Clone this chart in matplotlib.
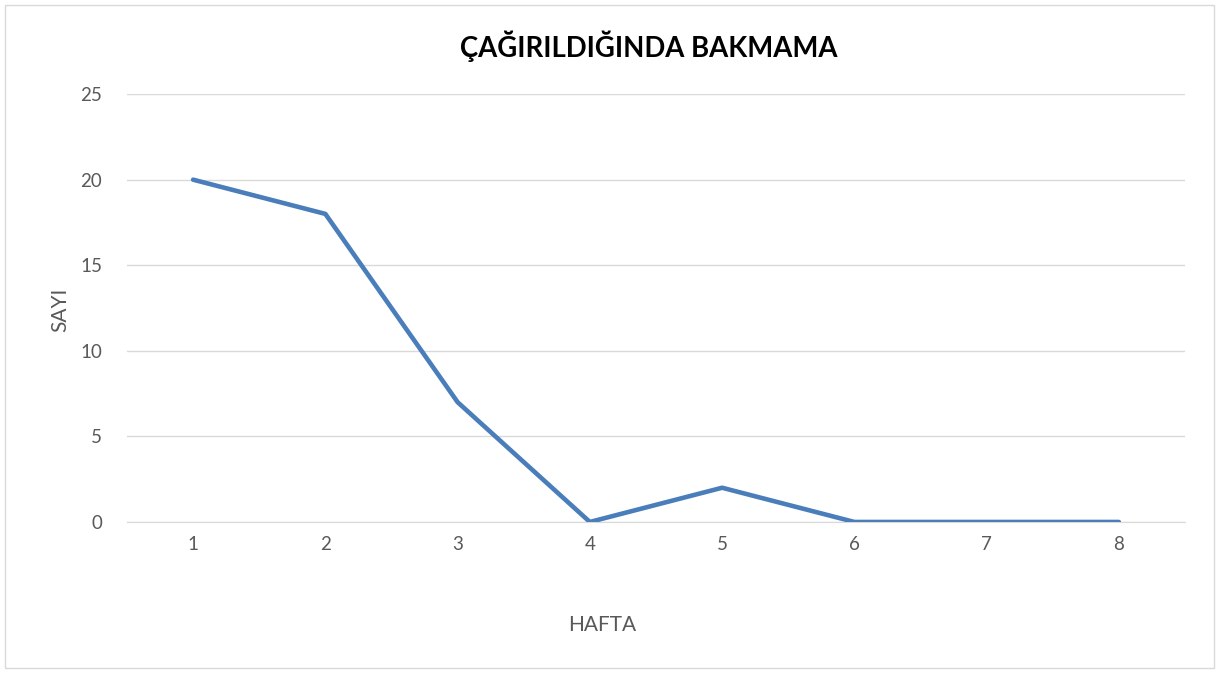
import matplotlib.pyplot as plt
from matplotlib.patches import Rectangle

plt.rcParams['font.family'] = ['Lato', 'DejaVu Sans']

# veri
hafta = [1, 2, 3, 4, 5, 6, 7, 8]
sayi = [20, 18, 7, 0, 2, 0, 0, 0]
yticks = [0, 5, 10, 15, 20, 25]

fig = plt.figure(figsize=(12.21, 6.77), dpi=100)
fig.patches.append(Rectangle((0.004, 0.013), 0.99, 0.98, transform=fig.transFigure,
                             fill=False, edgecolor='#d9d9d9', linewidth=1))
ax = fig.add_axes([0.104, 0.229, 0.8665, 0.632])

ax.plot(hafta, sayi, color='#4a7ebb', linewidth=3.3, solid_joinstyle='round',
        solid_capstyle='round', zorder=3)

ax.set_xlim(0.5, 8.5)
ax.set_ylim(0, 25)
ax.set_yticks(yticks)
ax.set_xticks(hafta)
ax.grid(axis='y', color='#d9d9d9', linewidth=1)
for s in ['top', 'right', 'left']:
    ax.spines[s].set_visible(False)
ax.spines['bottom'].set_color('#d9d9d9')
ax.tick_params(length=0, labelsize=13.5, colors='#595959', pad=10)
ax.tick_params(axis='y', pad=18)

# eksen basliklari
fig.text(0.493, 0.077, 'HAFTA', ha='center', va='center', fontsize=15, color='#595959')
fig.text(0.049, 0.542, 'SAYI', ha='center', va='center', rotation=90,
         fontsize=15, color='#595959')
fig.text(0.531, 0.932, 'ÇAĞIRILDIĞINDA BAKMAMA', ha='center', va='center',
         fontsize=19.8, fontweight='bold', color='black')

fig.savefig('out.png', dpi=100)
